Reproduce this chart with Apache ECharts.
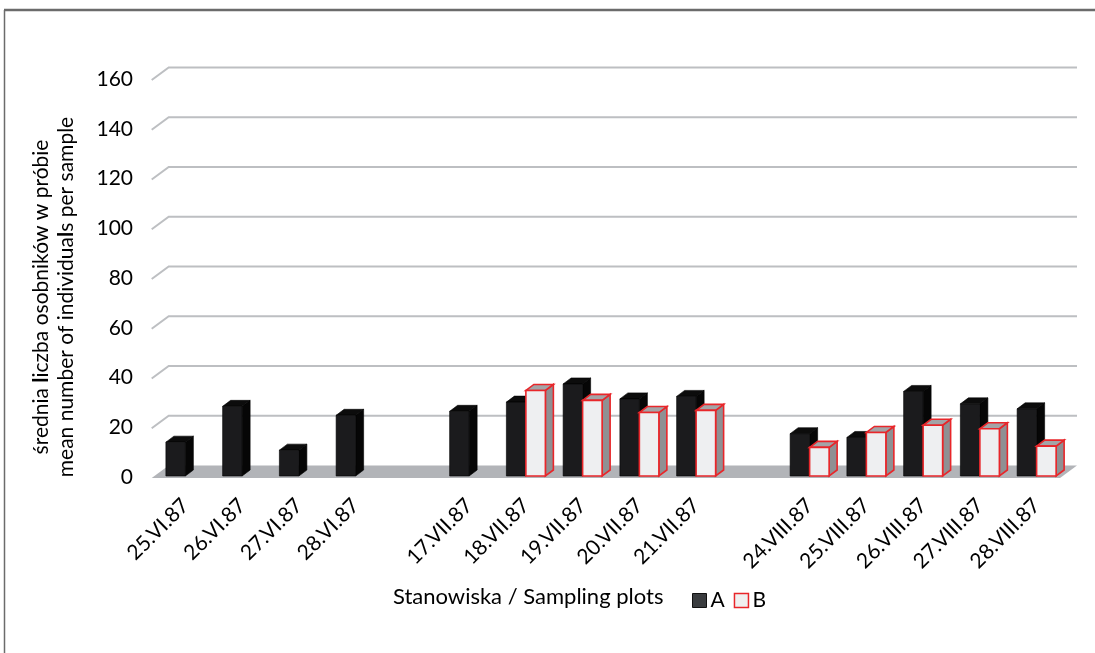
<!DOCTYPE html>
<html>
<head>
<meta charset="utf-8">
<script src="https://cdn.jsdelivr.net/npm/echarts@6/dist/echarts.min.js"></script>
<style>html,body{margin:0;padding:0;background:#fff;}#c{width:1095px;height:653px;}</style>
</head>
<body>
<div id="c"></div>
<script>
const categories = ['25.VI.87','26.VI.87','27.VI.87','28.VI.87','','17.VII.87','18.VII.87','19.VII.87','20.VII.87','21.VII.87','','24.VIII.87','25.VIII.87','26.VIII.87','27.VIII.87','28.VIII.87'];
const seriesA = [13.6, 28, 10.4, 24.4, null, 26, 29.7, 37, 31, 32, null, 17, 15.5, 34, 29, 27];
const seriesB = [null, null, null, null, null, null, 34.4, 30.4, 25.5, 26.4, null, 11.5, 17.5, 20.4, 19, 12];
const yTicks = [0, 20, 40, 60, 80, 100, 120, 140, 160];
const xTitle = 'Stanowiska / Sampling plots';
const yTitle1 = ['średnia ', 'l', 'iczba osobników w próbie'];
const yTitle2 = ['mean number of individua', 'l', 's per sample'];

const FONT = 'Lato, "Open Sans", sans-serif';
const chart = echarts.init(document.getElementById('c'), null, {renderer: 'canvas'});

function toData(arr) {
  const out = [];
  arr.forEach((v, i) => { if (v !== null && v !== undefined) out.push([i, v]); });
  return out;
}

function barRenderer(isA) {
  return function (params, api) {
    const k = api.value(0), v = api.value(1);
    const base = api.coord([k, 0]);
    const top = api.coord([k, v]);
    const w = 19.5, dx = 8, dy = -6;
    const cx = base[0];
    const x0 = isA ? cx - w : cx;
    const x1 = x0 + w;
    const yb = base[1] - 1, yt = top[1] - 1;
    const stroke = isA ? '#000' : '#e8262a';
    const lw = isA ? 0.6 : 1.6;
    return {
      type: 'group',
      children: [
        {type: 'polygon', shape: {points: [[x1, yt], [x1 + dx, yt + dy], [x1 + dx, yb + dy], [x1, yb]]},
         style: {fill: isA ? '#060606' : '#8f9093', stroke: stroke, lineWidth: lw}},
        {type: 'polygon', shape: {points: [[x0, yt], [x1, yt], [x1 + dx, yt + dy], [x0 + dx, yt + dy]]},
         style: {fill: isA ? '#0c0c0c' : '#a3a4a7', stroke: stroke, lineWidth: lw}},
        {type: 'rect', shape: {x: x0, y: yt, width: w, height: yb - yt},
         style: {fill: isA ? '#1b1b1d' : '#eeeff1', stroke: stroke, lineWidth: lw}}
      ]
    };
  };
}

function bgRenderer(params, api) {
  const cs = params.coordSys;
  const L = cs.x, R = cs.x + cs.width;
  const fx0 = L - 5.3, fx1 = R - 5;
  const ddx = 17, ddy = -12.5;
  const children = [];
  yTicks.forEach(t => {
    const y = api.coord([0, t])[1] + 1;
    if (t === 0) {
      children.push({type: 'polygon', shape: {points: [[fx0, y], [fx1, y], [fx1 + ddx, y + ddy], [fx0 + ddx, y + ddy]]},
        style: {fill: '#b2b4b8'}});
    } else {
      children.push({type: 'polyline', shape: {points: [[fx0, y], [fx0 + ddx, y + ddy], [fx1 + ddx, y + ddy]]},
        style: {stroke: '#bdbfc2', lineWidth: 2, fill: null}});
    }
  });
  return {type: 'group', children: children};
}

const option = {
  animation: false,
  backgroundColor: '#fff',
  grid: {left: 157, right: 30, top: 79, bottom: 176},
  xAxis: {
    type: 'category', data: categories, boundaryGap: true,
    axisLine: {show: false}, axisTick: {show: false}, splitLine: {show: false},
    axisLabel: {interval: 0, rotate: 45, margin: 25, fontFamily: FONT, fontSize: 21, color: '#000'}
  },
  yAxis: {
    type: 'value', min: 0, max: 160, interval: 20,
    axisLine: {show: false}, axisTick: {show: false}, splitLine: {show: false},
    axisLabel: {margin: 24, fontFamily: FONT, fontSize: 21, color: '#000'}
  },
  legend: {
    left: 692, top: 590, padding: 0, icon: 'rect', itemWidth: 14, itemHeight: 14, itemGap: 9,
    textStyle: {fontFamily: FONT, fontSize: 21, color: '#000', padding: [0, 0, 0, -1]},
    data: [
      {name: 'A', itemStyle: {color: '#3a3c3f', borderColor: '#111', borderWidth: 1}},
      {name: 'B', itemStyle: {color: '#f0f0f0', borderColor: '#e8262a', borderWidth: 1.5}}
    ]
  },
  series: [
    {type: 'custom', name: 'bg', renderItem: bgRenderer, data: [[0, 0]], z: 1, silent: true},
    {type: 'custom', name: 'A', renderItem: barRenderer(true), data: toData(seriesA), z: 3,
     itemStyle: {color: '#3a3c3f'}},
    {type: 'custom', name: 'B', renderItem: barRenderer(false), data: toData(seriesB), z: 4,
     itemStyle: {color: '#f0f0f0', borderColor: '#e8262a'}}
  ],
  graphic: [
    {type: 'line', shape: {x1: 4, y1: 10, x2: 1095, y2: 10}, style: {stroke: '#6b6b6b', lineWidth: 2.5}},
    {type: 'line', shape: {x1: 4.5, y1: 10, x2: 4.5, y2: 653}, style: {stroke: '#6b6b6b', lineWidth: 1.5}},
    {type: 'text', left: 393, top: 586, style: {text: xTitle, fontFamily: FONT, fontSize: 22, fill: '#000'}},
    {type: 'text', x: 54, y: 297, rotation: Math.PI / 2,
     style: {
       text: '{n|' + yTitle1[0] + '}{b|' + yTitle1[1] + '}{n|' + yTitle1[2] + '}\n{n|' + yTitle2[0] + '}{b|' + yTitle2[1] + '}{n|' + yTitle2[2] + '}',
       align: 'center', verticalAlign: 'middle', fill: '#000',
       rich: {
         n: {fontFamily: FONT, fontSize: 21, lineHeight: 25, fill: '#000'},
         b: {fontFamily: FONT, fontSize: 21, lineHeight: 25, fontWeight: 'bold', fill: '#000'}
       }
     }}
  ]
};
chart.setOption(option);
</script>
</body>
</html>
